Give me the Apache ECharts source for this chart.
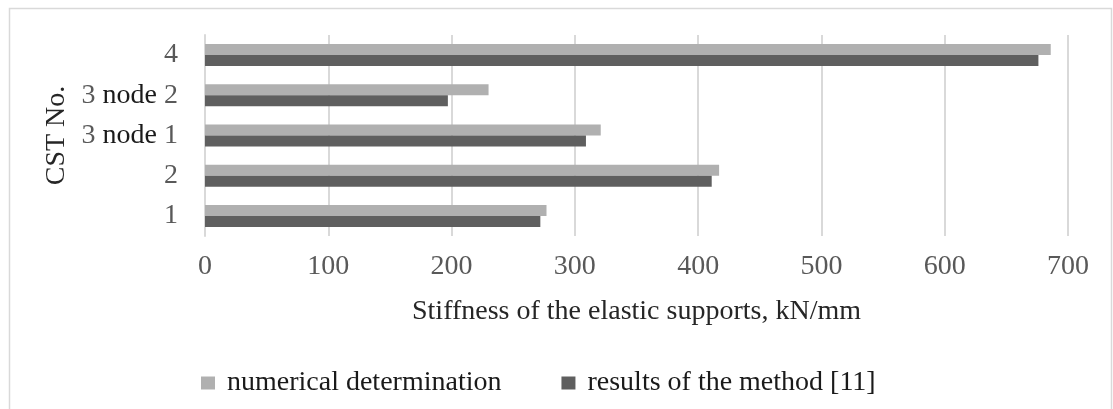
<!DOCTYPE html>
<html><head><meta charset="utf-8">
<script src="https://cdn.jsdelivr.net/npm/echarts@6/dist/echarts.min.js"></script>
<style>html,body{margin:0;padding:0;background:#fff}#c{width:1113px;height:409px}</style>
</head><body><div id="c"></div>
<script>
const categories = ['1', '2', '3 node 1', '3 node 2', '4'];
const numerical = [277, 417, 321, 230, 686];
const method11 = [272, 411, 309, 197, 676];
const xTicks = [0, 100, 200, 300, 400, 500, 600, 700];

const chart = echarts.init(document.getElementById('c'));
const font = 'Liberation Serif';
chart.setOption({
  backgroundColor: '#fff',
  animation: false,
  graphic: [{type: 'rect', shape: {x: 9.5, y: 8.5, width: 1102, height: 420}, style: {fill: 'none', stroke: '#d9d9d9', lineWidth: 1.5}}],
  grid: {left: 205, right: 45, top: 35, bottom: 173},
  xAxis: {
    type: 'value', min: 0, max: 700, interval: 100,
    name: 'Stiffness of the elastic supports, kN/mm',
    nameLocation: 'middle', nameGap: 62,
    nameTextStyle: {fontFamily: font, fontSize: 28, color: '#262626'},
    axisLine: {show: false}, axisTick: {show: false},
    axisLabel: {fontFamily: font, fontSize: 28, color: '#595959', margin: 17,
      formatter: v => xTicks.includes(v) ? String(v) : ''},
    splitLine: {lineStyle: {color: '#d9d9d9', width: 2}}
  },
  yAxis: {
    type: 'category', data: categories,
    name: 'CST No.', nameLocation: 'middle', nameGap: 134,
    nameTextStyle: {fontFamily: font, fontSize: 28, color: '#262626'},
    axisLine: {show: true, lineStyle: {color: '#d9d9d9', width: 2}},
    axisTick: {show: false},
    axisLabel: {fontFamily: font, fontSize: 28, color: '#595959', margin: 27,
      formatter: v => {
        const m = v.match(/^(\d) node (\d)$/);
        return m ? '{g|' + m[1] + '} {b|node} {g|' + m[2] + '}' : '{g|' + v + '}';
      },
      rich: {g: {fontFamily: font, fontSize: 28, color: '#595959'}, b: {fontFamily: font, fontSize: 28, color: '#1a1a1a'}}
    }
  },
  legend: {
    top: 364, left: 196,
    data: ['numerical determination', 'results of the method [11]'],
    itemWidth: 14, itemHeight: 13, itemGap: 60, icon: 'rect',
    textStyle: {fontFamily: font, fontSize: 28, color: '#1a1a1a', padding: [0, 0, 0, 7]}
  },
  series: [
    {name: 'numerical determination', type: 'bar', data: numerical, barWidth: 11, barGap: '0%',
      itemStyle: {color: '#b0b0b0'}},
    {name: 'results of the method [11]', type: 'bar', data: method11, barWidth: 11, barGap: '0%',
      itemStyle: {color: '#5f5f5f'}}
  ]
});
</script></body></html>
